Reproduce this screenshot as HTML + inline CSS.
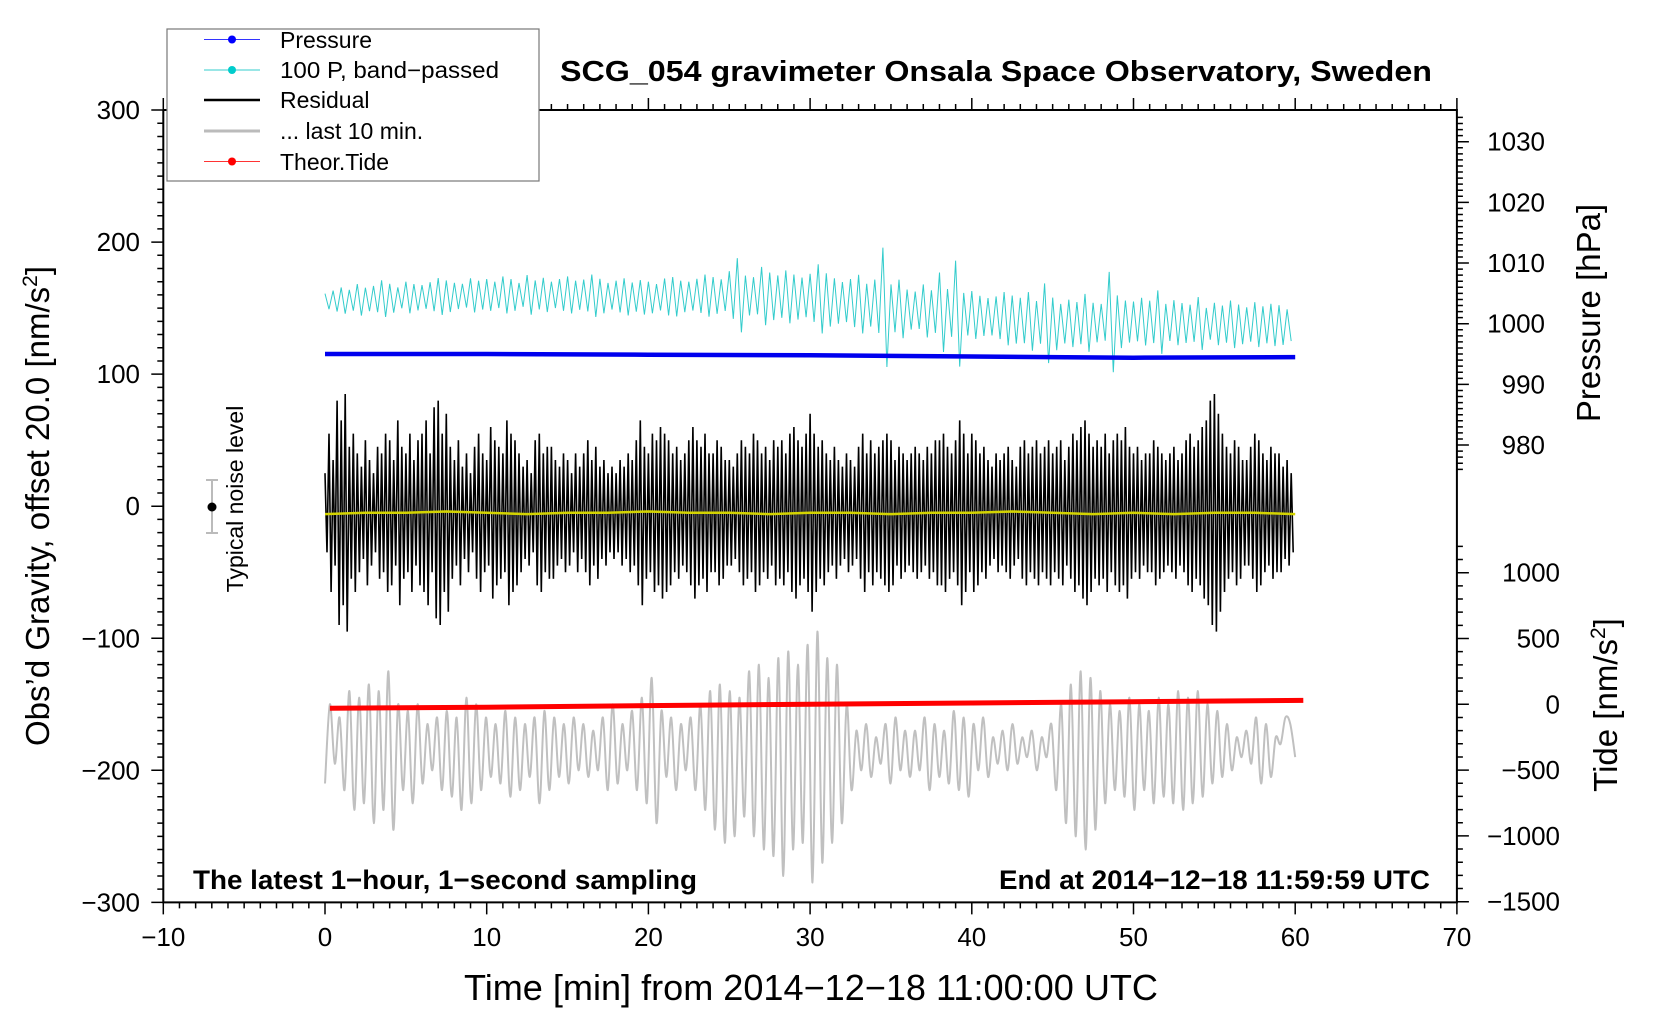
<!DOCTYPE html>
<html><head><meta charset="utf-8"><style>
html,body{margin:0;padding:0;background:#fff;}
svg{display:block;font-family:"Liberation Sans",Arial,sans-serif;}
</style></head><body>
<svg id="chart" width="1660" height="1020" viewBox="0 0 1660 1020" xmlns="http://www.w3.org/2000/svg">
<rect x="0" y="0" width="1660" height="1020" fill="#fff"/>
<g id="marks"></g>
<g id="axes"></g>
<text x="560" y="81" font-size="29" font-weight="bold" textLength="872" lengthAdjust="spacingAndGlyphs">SCG_054 gravimeter Onsala Space Observatory, Sweden</text>
<text x="464" y="1000" font-size="36" textLength="694" lengthAdjust="spacingAndGlyphs">Time [min] from 2014−12−18 11:00:00 UTC</text>
<text transform="translate(49,506) rotate(-90)" font-size="33" text-anchor="middle">Obs’d Gravity, offset 20.0 [nm/s<tspan font-size="21" dy="-12">2</tspan><tspan dy="12">]</tspan></text>
<text transform="translate(1600,313) rotate(-90)" font-size="33" text-anchor="middle">Pressure [hPa]</text>
<text transform="translate(1617,705) rotate(-90)" font-size="33" text-anchor="middle">Tide [nm/s<tspan font-size="21" dy="-12">2</tspan><tspan dy="12">]</tspan></text>
<text x="193" y="889" font-size="27" font-weight="bold" textLength="504" lengthAdjust="spacingAndGlyphs">The latest 1−hour, 1−second sampling</text>
<text x="999" y="889" font-size="27" font-weight="bold" textLength="431" lengthAdjust="spacingAndGlyphs">End at 2014−12−18 11:59:59 UTC</text>
<g>
<line x1="212" y1="480" x2="212" y2="533" stroke="#bbb" stroke-width="2"/>
<line x1="206" y1="480" x2="218" y2="480" stroke="#bbb" stroke-width="2"/>
<line x1="206" y1="533" x2="218" y2="533" stroke="#bbb" stroke-width="2"/>
<circle cx="212" cy="507" r="4.5" fill="#000"/>
<text transform="translate(243,499) rotate(-90)" font-size="23" text-anchor="middle">Typical noise level</text>
</g>
<g id="legend">
<rect x="167" y="29" width="372" height="152" fill="#fff" stroke="#777" stroke-width="1.2"/>
<g><line x1="204" y1="39.5" x2="260" y2="39.5" stroke="#33f" stroke-width="1"/><circle cx="232" cy="39.5" r="4" fill="#00f"/><text x="280" y="48" font-size="23">Pressure</text></g>
<g><line x1="204" y1="70" x2="260" y2="70" stroke="#3cc" stroke-width="1"/><circle cx="232" cy="70" r="4" fill="#0cc"/><text x="280" y="78" font-size="23" textLength="219" lengthAdjust="spacingAndGlyphs">100 P, band−passed</text></g>
<g><line x1="204" y1="100" x2="260" y2="100" stroke="#000" stroke-width="2.5"/><text x="280" y="108" font-size="23">Residual</text></g>
<g><line x1="204" y1="131" x2="260" y2="131" stroke="#bbb" stroke-width="3"/><text x="280" y="139" font-size="23">... last 10 min.</text></g>
<g><line x1="204" y1="161.5" x2="260" y2="161.5" stroke="#f33" stroke-width="1"/><circle cx="232" cy="161.5" r="4" fill="#f00"/><text x="280" y="170" font-size="23">Theor.Tide</text></g>
</g>
</svg>
<script>
// ---- data ----
const pressureTimes = [0,10,20,30,40,50,60];
const pressureValues = [995.0,995.0,994.9,994.8,994.6,994.4,994.5];
const tideTimes = [0.3,10,20,30,40,50,60.5];
const tideValues = [-30,-22,-10,0,10,20,30];
const bandBaseTimes = [0,5,10,15,20,25,30,35,40,45,50,55,60];
const bandBaseValues = [155,158,160,160,158,160,158,150,145,138,140,138,137];
const bandAmp = [6,8,10,8,12,9,10,14,11,8,12,10,9,11,14,12,10,9,13,11,
12,10,14,12,9,15,11,13,10,12,14,11,12,16,13,10,12,14,11,13,
12,10,14,15,12,11,13,16,14,12,18,28,15,14,22,18,16,20,17,15,
18,26,20,17,15,18,22,16,20,45,18,22,15,14,20,16,30,18,40,16,
18,15,14,16,20,18,17,22,16,30,20,15,18,16,22,15,14,38,20,16,
15,18,16,24,14,17,15,14,20,12,16,14,18,15,13,17,14,16,15,12];
const residualCenter = -5;
const residualAmp = [30,60,40,85,70,90,50,60,45,35,55,40,30,50,45,60,55,40,70,50,45,60,40,55,60,70,45,80,85,60,75,50,40,55,35,45,30,50,60,45,
40,65,55,50,45,70,60,55,45,35,40,30,55,60,45,50,50,40,35,45,40,30,45,35,45,55,40,50,35,40,30,35,30,40,35,45,40,55,70,50,
45,60,55,65,60,55,45,50,40,45,55,65,55,50,60,45,45,55,50,40,40,35,45,55,50,45,60,55,45,50,40,55,50,55,45,60,65,55,50,60,
75,60,50,55,45,40,50,40,35,45,40,35,50,60,45,55,45,50,55,60,55,40,50,45,40,45,50,45,40,50,45,55,55,60,50,45,55,70,60,45,
60,55,45,50,40,35,45,40,45,50,40,35,50,55,45,50,55,45,50,55,45,50,55,40,50,60,55,65,70,60,50,55,50,60,45,55,60,55,65,50,
45,50,40,45,45,55,50,45,40,45,50,40,45,55,60,50,55,65,70,85,90,75,60,50,45,55,50,40,40,50,60,55,45,40,50,45,45,35,40,30];
const yellowValues = [-6,-5,-5,-4,-5,-6,-5,-5,-4,-5,-5,-6,-5,-5,-6,-5,-5,-4,-5,-6,-5,-6,-5,-5,-6];
const grayValues = [-210,-150,-195,-160,-215,-140,-230,-145,-225,-135,-240,-140,-230,-125,-245,-150,-215,-155,-225,-150,
-210,-165,-200,-160,-215,-155,-220,-160,-230,-145,-225,-150,-215,-160,-205,-165,-210,-155,-220,-160,
-215,-165,-205,-160,-225,-155,-215,-160,-205,-165,-210,-160,-200,-165,-205,-170,-200,-160,-215,-150,
-210,-165,-200,-155,-215,-145,-225,-130,-240,-155,-205,-160,-215,-165,-200,-160,-215,-150,-230,-140,
-245,-135,-255,-140,-250,-145,-235,-125,-250,-120,-260,-130,-265,-115,-280,-110,-260,-120,-255,-105,
-285,-95,-270,-115,-255,-120,-240,-150,-215,-170,-200,-165,-205,-175,-195,-165,-210,-160,-200,-170,
-205,-170,-200,-160,-215,-165,-205,-170,-210,-155,-215,-160,-220,-165,-200,-160,-205,-175,-195,-170,
-200,-165,-195,-175,-190,-170,-200,-175,-190,-165,-215,-150,-240,-135,-250,-125,-260,-130,-245,-140,
-225,-150,-215,-155,-220,-145,-230,-150,-215,-155,-225,-145,-220,-150,-225,-140,-230,-145,-225,-140,
-220,-150,-210,-155,-205,-165,-200,-175,-190,-170,-195,-160,-210,-165,-205,-175,-180,-160,-165,-190];
const xTicks = [-10,0,10,20,30,40,50,60,70];
const yTicks = [300,200,100,0,-100,-200,-300];
const pTicks = [1030,1020,1010,1000,990,980];
const tTicks = [1000,500,0,-500,-1000,-1500];

// ---- scales ----
const X = t => 163.3 + (t + 10) * 16.17;
const Y = v => 506.2 - v * 1.3205;
const YP = p => 141.7 + (1030 - p) * 6.067;
const YT = v => 704.3 - v * 0.1316;
const NS = 'http://www.w3.org/2000/svg';
const marks = document.getElementById('marks');
const axes = document.getElementById('axes');
function mk(tag, attrs, parent){ const e=document.createElementNS(NS,tag); for(const k in attrs) e.setAttribute(k,attrs[k]); parent.appendChild(e); return e; }
function lerp(ts, vs, t){ for(let i=0;i<ts.length-1;i++){ if(t<=ts[i+1]) return vs[i]+(vs[i+1]-vs[i])*(t-ts[i])/(ts[i+1]-ts[i]); } return vs[vs.length-1]; }

// gray last 10 min (smooth)
{
  const n=grayValues.length, dt=60/(n-1);
  const pts=grayValues.map((v,i)=>[X(i*dt),Y(v)]);
  let d='M'+pts[0][0].toFixed(1)+','+pts[0][1].toFixed(1);
  for(let i=0;i<n-1;i++){
    const p0=pts[Math.max(0,i-1)],p1=pts[i],p2=pts[i+1],p3=pts[Math.min(n-1,i+2)];
    const c1=[p1[0]+(p2[0]-p0[0])/6,p1[1]+(p2[1]-p0[1])/6], c2=[p2[0]-(p3[0]-p1[0])/6,p2[1]-(p3[1]-p1[1])/6];
    d+=' C'+c1[0].toFixed(1)+','+c1[1].toFixed(1)+' '+c2[0].toFixed(1)+','+c2[1].toFixed(1)+' '+p2[0].toFixed(1)+','+p2[1].toFixed(1);
  }
  const el=mk('path',{d:d,fill:'none',stroke:'#c0c0c0','stroke-width':2},marks);
  
  
}
// tide
{
  const d=tideTimes.map((t,i)=>(i?'L':'M')+X(t).toFixed(1)+','+YT(tideValues[i]).toFixed(1)).join(' ');
  const el=mk('path',{d:d,fill:'none',stroke:'#f00','stroke-width':5},marks);
  
  
}
// residual
{
  const n=residualAmp.length, dt=60/n; let d='';
  residualAmp.forEach((a,i)=>{
    const t=i*dt;
    d+=(i?'L':'M')+X(t).toFixed(1)+','+Y(residualCenter+a).toFixed(1)+' L'+X(t+dt/2).toFixed(1)+','+Y(residualCenter-a).toFixed(1)+' ';
  });
  const el=mk('path',{d:d,fill:'none',stroke:'#000','stroke-width':1.6},marks);
  
  
}
// yellow mean
{
  const n=yellowValues.length, dt=60/(n-1);
  const d=yellowValues.map((v,i)=>(i?'L':'M')+X(i*dt).toFixed(1)+','+Y(v).toFixed(1)).join(' ');
  const el=mk('path',{d:d,fill:'none',stroke:'#d4d400','stroke-width':2.5},marks);
  
  
}
// band-passed pressure
{
  const n=bandAmp.length, dt=60/n; let d='';
  bandAmp.forEach((a,i)=>{
    const t=i*dt, b1=lerp(bandBaseTimes,bandBaseValues,t), b2=lerp(bandBaseTimes,bandBaseValues,t+dt/2);
    d+=(i?'L':'M')+X(t).toFixed(1)+','+Y(b1+a).toFixed(1)+' L'+X(t+dt/2).toFixed(1)+','+Y(b2-a).toFixed(1)+' ';
  });
  const el=mk('path',{d:d,fill:'none',stroke:'#33cccc','stroke-width':1},marks);
  
  
}
// pressure
{
  const d=pressureTimes.map((t,i)=>(i?'L':'M')+X(t).toFixed(1)+','+YP(pressureValues[i]).toFixed(1)).join(' ');
  const el=mk('path',{d:d,fill:'none',stroke:'#0000ee','stroke-width':4.5},marks);
  
  
}

// ---- axes ----
const L=X(-10), R=X(70), T=Y(300), B=Y(-300);
mk('path',{d:`M${L},${T} L${L},${B} L${R},${B} L${R},${T} L${L},${T}`,fill:'none',stroke:'#000','stroke-width':2},axes);
let tk='';
for(let t=-10;t<=70;t++){ const x=X(t), len=(t%10===0)?12:6; tk+=`M${x},${B} L${x},${B+len} M${x},${T} L${x},${T-len} `; }
for(let v=-300;v<=300;v+=10){ const y=Y(v), len=(v%100===0)?12:6; tk+=`M${L},${y} L${L-len},${y} `; }
for(let p=1034;p>=974;p--){ const y=YP(p); if(y<T||y>470) continue; const len=(p%10===0)?12:6; tk+=`M${R},${y} L${R+len},${y} `; }
for(let v=-1500;v<=1200;v+=100){ const y=YT(v); const len=(v%500===0)?12:6; tk+=`M${R},${y} L${R+len},${y} `; }
mk('path',{d:tk,fill:'none',stroke:'#000','stroke-width':1.5},axes);
xTicks.forEach(t=>{ const e=mk('text',{x:X(t),y:946,'font-size':26,'text-anchor':'middle'},axes); e.textContent=(t<0?'−':'')+Math.abs(t);
  
   });
yTicks.forEach(v=>{ const e=mk('text',{x:140,y:Y(v)+9,'font-size':26,'text-anchor':'end'},axes); e.textContent=(v<0?'−':'')+Math.abs(v);
  
   });
pTicks.forEach(p=>{ const e=mk('text',{x:1545,y:YP(p)+9,'font-size':26,'text-anchor':'end'},axes); e.textContent=p;
  
   });
tTicks.forEach(v=>{ const e=mk('text',{x:1560,y:YT(v)+9,'font-size':26,'text-anchor':'end'},axes); e.textContent=(v<0?'−':'')+Math.abs(v);
  
   });
// legend on top
document.getElementById('chart').appendChild(document.getElementById('legend'));
</script>
</body></html>
